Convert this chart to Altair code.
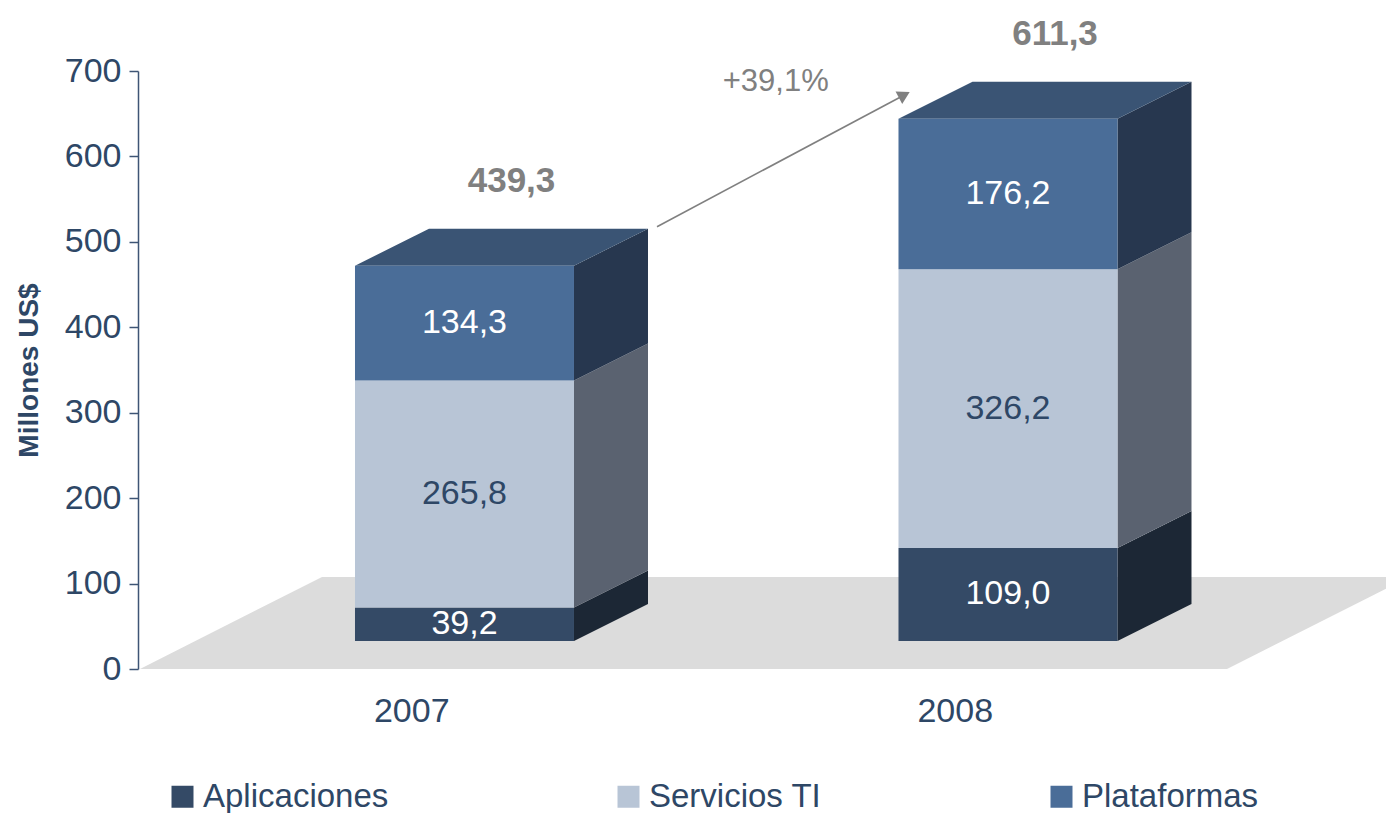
import altair as alt
import pandas as pd

# ---------------- data ----------------
years = ["2007", "2008"]
series = ["Aplicaciones", "Servicios TI", "Plataformas"]
aplicaciones = [39.2, 109.0]
servicios_ti = [265.8, 326.2]
plataformas = [134.3, 176.2]
total_labels = ["439,3", "611,3"]
growth_label = "+39,1%"
y_title = "Millones US$"

values_by_series = [aplicaciones, servicios_ti, plataformas]

# ---------------- style ----------------
FRONT = ["#344A66", "#B8C5D6", "#4A6D98"]
SIDE = ["#1C2735", "#5A6270", "#27374F"]
TOP = "#3A5474"
TEXT_IN = ["#FFFFFF", "#2E4766", "#FFFFFF"]
AXIS_TEXT = "#2E4766"
AXIS_LINE = "#3E5575"
GREY = "#808080"
FLOOR = "#DCDCDC"
FONT = "Liberation Sans"

W, H = 1248, 598
YMAX = 700
PPU = H / YMAX  # pixels per value unit


def u(px):
    return px / PPU


FLOOR_X0 = 2
CAT_W = 543.5
FLOOR_DX, FLOOR_DY = 182, u(92)
FRONT_FRAC = 28 / 92
BAR_INSET = 159.6
BAR_W = 219
BAR_DX, BAR_DY = 74, u(37)

# ---------------- geometry from data ----------------
front_rows, side_rows, top_rows, lab_rows, tot_rows, year_rows = [], [], [], [], [], []
base = FRONT_FRAC * FLOOR_DY
bar_geo = []
for i, yr in enumerate(years):
    x0 = FLOOR_X0 + i * CAT_W + FRONT_FRAC * FLOOR_DX + BAR_INSET
    x1 = x0 + BAR_W
    cum = base
    for s, name in enumerate(series):
        v = values_by_series[s][i]
        y0, y1 = cum, cum + v
        front_rows.append(dict(year=yr, series=name, x=x0, x2=x1, y=y0, y2=y1))
        lab_rows.append(dict(x=(x0 + x1) / 2, y=(y0 + y1) / 2,
                             text=f"{v:.1f}".replace(".", ","), c=TEXT_IN[s]))
        seg = f"{yr}-{name}"
        side_rows.append(dict(seg=seg, c=SIDE[s], x=x1, y=y0, y2=y1))
        side_rows.append(dict(seg=seg, c=SIDE[s], x=x1 + BAR_DX, y=y0 + BAR_DY, y2=y1 + BAR_DY))
        cum = y1
    top = cum
    seg = f"{yr}-top"
    for (xx, ya, yb) in [(x0, top, top), (x0 + BAR_DX, top, top + BAR_DY),
                         (x1, top, top + BAR_DY), (x1 + BAR_DX, top + BAR_DY, top + BAR_DY)]:
        top_rows.append(dict(seg=seg, c=TOP, x=xx, y=ya, y2=yb))
    tot_rows.append(dict(x=(x0 + x1) / 2 + BAR_DX / 2 + 10, y=top + BAR_DY, text=total_labels[i]))
    year_rows.append(dict(x=FLOOR_X0 + (i + 0.5) * CAT_W, y=0, text=yr))
    bar_geo.append((x0, x1, top))

floor_rows = [
    dict(seg="floor", c=FLOOR, x=FLOOR_X0, y=0, y2=0),
    dict(seg="floor", c=FLOOR, x=FLOOR_X0 + FLOOR_DX, y=0, y2=FLOOR_DY),
    dict(seg="floor", c=FLOOR, x=FLOOR_X0 + len(years) * CAT_W, y=0, y2=FLOOR_DY),
    dict(seg="floor", c=FLOOR, x=FLOOR_X0 + len(years) * CAT_W + FLOOR_DX, y=FLOOR_DY, y2=FLOOR_DY),
]

# growth arrow between the two bar tops
(ax0, ax1, atop0), (bx0, bx1, btop1) = bar_geo
start_x, start_y = ax1 + BAR_DX + 9, atop0 + BAR_DY + u(2)
tip_x, tip_y = bx0 + BAR_DX - 62, btop1 + BAR_DY - u(10)
head_x, head_y = tip_x - 6.2, tip_y - u(3.3)
arrow_df = pd.DataFrame([dict(x=start_x, y=start_y, x2=head_x, y2=head_y)])
head_df = pd.DataFrame([dict(x=head_x, y=head_y)])
growth_df = pd.DataFrame([dict(x=(start_x + tip_x) / 2 - 8, y=tip_y, text=growth_label)])

# ---------------- encodings ----------------
xs = alt.Scale(domain=[0, W], nice=False, zero=False)
ys = alt.Scale(domain=[0, YMAX], nice=False)
y_axis = alt.Axis(values=list(range(0, YMAX + 1, 100)), title=y_title, grid=False,
                  labelFont=FONT, labelFontSize=34, labelColor=AXIS_TEXT, labelPadding=8,
                  tickSize=9, tickColor=AXIS_LINE, tickWidth=1.5,
                  domainColor=AXIS_LINE, domainWidth=1.5,
                  titleFont=FONT, titleFontSize=28, titleFontWeight="bold",
                  titleColor=AXIS_TEXT, titlePadding=21)

X = alt.X("x:Q", scale=xs, axis=None)
Y = alt.Y("y:Q", scale=ys, axis=y_axis, stack=None)


def faces(df):
    return alt.Chart(pd.DataFrame(df)).mark_area(orient="vertical", interpolate="linear", clip=True).encode(
        x=X, y=Y, y2="y2:Q", detail="seg:N", fill=alt.Fill("c:N", scale=None, legend=None)
    )


floor = faces(floor_rows)
sides = faces(side_rows)
tops = faces(top_rows)

fronts = alt.Chart(pd.DataFrame(front_rows)).mark_rect().encode(
    x=X, x2="x2:Q", y=Y, y2="y2:Q",
    color=alt.Color("series:N", scale=alt.Scale(domain=series, range=FRONT),
                    legend=alt.Legend(orient="none", legendX=28, legendY=709, direction="horizontal",
                                      columns=3, title=None, symbolType="square", symbolSize=484,
                                      symbolStrokeWidth=0, symbolOpacity=1, labelFont=FONT,
                                      labelFontSize=33, labelColor=AXIS_TEXT, labelOffset=4,
                                      columnPadding=223, padding=0, labelLimit=400)),
)

seg_labels = alt.Chart(pd.DataFrame(lab_rows)).mark_text(font=FONT, fontSize=34, baseline="middle").encode(
    x=X, y=Y, text="text:N", fill=alt.Fill("c:N", scale=None, legend=None)
)

totals = alt.Chart(pd.DataFrame(tot_rows)).mark_text(
    font=FONT, fontSize=35, fontWeight="bold", color=GREY, baseline="middle", dy=-48
).encode(x=X, y=Y, text="text:N")

year_text = alt.Chart(pd.DataFrame(year_rows)).mark_text(
    font=FONT, fontSize=34, color=AXIS_TEXT, baseline="middle", dy=43
).encode(x=X, y=Y, text="text:N")

arrow = alt.Chart(arrow_df).mark_rule(color=GREY, strokeWidth=1.6).encode(
    x=X, y=Y, x2="x2:Q", y2="y2:Q"
)
head = alt.Chart(head_df).mark_point(shape="triangle-up", filled=True, size=200, angle=62,
                                     color=GREY, opacity=1).encode(x=X, y=Y)
growth = alt.Chart(growth_df).mark_text(font=FONT, fontSize=31, color=GREY, baseline="middle", dy=-10).encode(
    x=X, y=Y, text="text:N"
)

chart = alt.layer(
    floor, sides, tops, fronts, seg_labels, totals, year_text, arrow, head, growth
).properties(
    width=W, height=H,
    autosize=alt.AutoSizeParams(type="none"),
    padding={"left": 130, "top": 63, "right": 0, "bottom": 144},
).configure_view(stroke=None)

chart.save("out.html", embed_options={"renderer": "svg", "actions": False})
